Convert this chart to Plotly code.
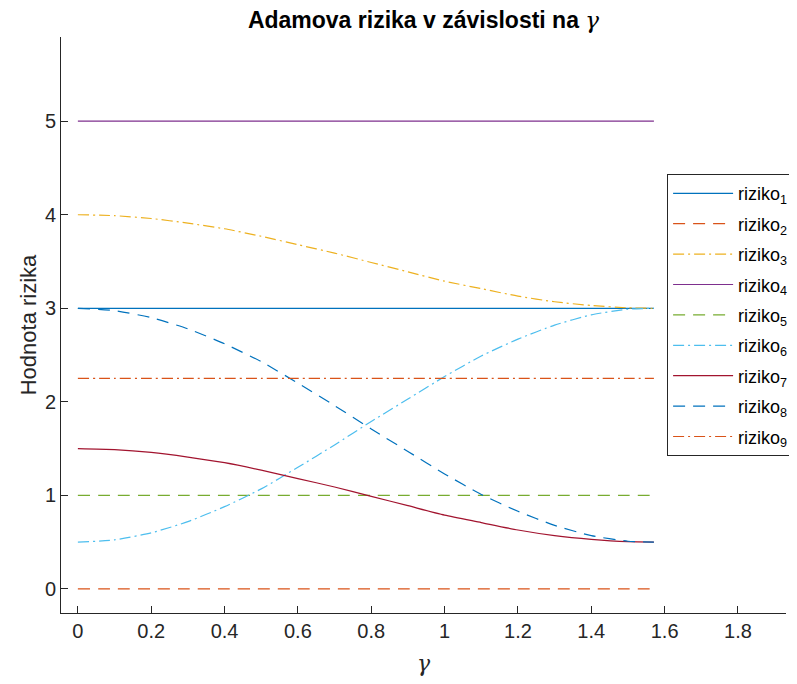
import plotly.graph_objects as go

gamma = [0, 0.1, 0.2, 0.3, 0.4, 0.5, 0.6, 0.7, 0.8, 0.9, 1.0, 1.1, 1.2, 1.3, 1.4, 1.5, 1.5708]

riziko1 = [3.0] * len(gamma)
riziko2 = [0.0] * len(gamma)
riziko3 = [4.00, 3.99, 3.96, 3.91, 3.85, 3.77, 3.68, 3.59, 3.49, 3.39, 3.29, 3.21, 3.13, 3.07, 3.03, 3.005, 3.00]
riziko4 = [5.0] * len(gamma)
riziko5 = [1.0] * len(gamma)
riziko6 = [0.50, 0.525, 0.60, 0.72, 0.88, 1.07, 1.30, 1.54, 1.79, 2.03, 2.27, 2.49, 2.67, 2.82, 2.93, 2.99, 3.00]
riziko7 = [1.50, 1.49, 1.46, 1.41, 1.35, 1.27, 1.18, 1.09, 0.99, 0.89, 0.79, 0.71, 0.63, 0.57, 0.53, 0.505, 0.50]
riziko8 = [3.00, 2.975, 2.90, 2.78, 2.62, 2.43, 2.20, 1.96, 1.71, 1.47, 1.23, 1.01, 0.83, 0.68, 0.57, 0.51, 0.50]
riziko9 = [2.25] * len(gamma)

series = [riziko1, riziko2, riziko3, riziko4, riziko5, riziko6, riziko7, riziko8, riziko9]
names = ["riziko<sub>%d</sub>" % (i + 1) for i in range(9)]
colors = ["#0072BD", "#D95319", "#EDB120", "#7E2F8E", "#77AC30", "#4DBEEE", "#A2142F", "#0072BD", "#D95319"]
DASH = "12px,8px"
DASHDOT = "11px,4px,2px,4px"
dashes = ["solid", DASH, DASHDOT, "solid", DASH, DASHDOT, "solid", DASH, DASHDOT]

x_ticks = [0, 0.2, 0.4, 0.6, 0.8, 1.0, 1.2, 1.4, 1.6, 1.8]
x_ticklabels = ["0", "0.2", "0.4", "0.6", "0.8", "1", "1.2", "1.4", "1.6", "1.8"]
y_ticks = [0, 1, 2, 3, 4, 5]

FONT = "Liberation Sans, Arial, Helvetica, sans-serif"
SERIF = "DejaVu Serif, Liberation Serif, serif"
TXT = "#262626"

fig = go.Figure()
for i, (ys, nm, c, d) in enumerate(zip(series, names, colors, dashes)):
    fig.add_trace(go.Scatter(
        x=gamma, y=ys, mode="lines", name=nm, legendgroup="g%d" % i,
        line=dict(color=c, width=1.2, dash=d, shape="spline", smoothing=0.6),
    ))

fig.update_layout(
    width=781, height=668,
    margin=dict(l=53, r=3, t=29, b=63, autoexpand=False),
    plot_bgcolor="white", paper_bgcolor="white",
    font=dict(family=FONT, color=TXT, size=20),
    title=dict(
        text="<b>Adamova rizika v závislosti na </b><span style='font-family:" + SERIF + "'><i>γ</i></span>",
        x=0.5, xref="paper", xanchor="center", y=1, yref="container", yanchor="top",
        pad=dict(t=4), font=dict(size=23, color="black", family=FONT),
    ),
    xaxis=dict(
        range=[-0.046, 1.931], tickmode="array", tickvals=x_ticks, ticktext=x_ticklabels,
        ticks="inside", ticklen=7, tickcolor=TXT, showline=True, linecolor=TXT, linewidth=1,
        showgrid=False, zeroline=False, tickfont=dict(size=20, color=TXT), automargin=False,
        title=dict(text="<i>γ</i>", font=dict(size=22, family=SERIF, color=TXT), standoff=16),
    ),
    yaxis=dict(
        range=[-0.257, 5.90], tickmode="array", tickvals=y_ticks,
        ticks="inside", ticklen=7, tickcolor=TXT, showline=True, linecolor=TXT, linewidth=1,
        showgrid=False, zeroline=False, tickfont=dict(size=20, color=TXT), automargin=False,
        title=dict(text="Hodnota rizika", font=dict(size=22, color=TXT), standoff=2),
    ),
    legend=dict(
        x=0.836, y=0.762, xanchor="left", yanchor="top",
        bgcolor="white", bordercolor="#262626", borderwidth=1,
        font=dict(size=18, color="black", family=FONT),
        tracegroupgap=4, itemwidth=60,
    ),
    showlegend=True,
)

fig.write_html("out.html")
